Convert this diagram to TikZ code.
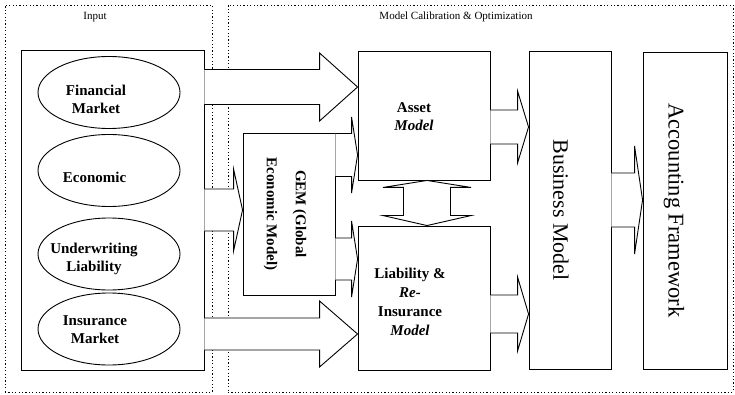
\documentclass[tikz,border=0pt]{standalone}
\usepackage{fontspec}
\setmainfont{Liberation Serif}
\usetikzlibrary{shapes.geometric,calc}

\tikzset{
    zone/.style={draw, line width=.8pt, dash pattern=on 1.2pt off 2.2pt, inner sep=0pt},
    box/.style={draw, line width=.9pt, fill=white, inner sep=0pt},
    source/.style={draw, ellipse, line width=.9pt, minimum width=142pt, minimum height=72pt, inner sep=0pt},
    boldtxt/.style={font=\fontsize{15}{18}\selectfont\bfseries, align=center},
    bigtxt/.style={font=\fontsize{22}{26}\selectfont, rotate=-90},
    small/.style={font=\fontsize{11}{13}\selectfont},
    blockarrow/.style={draw, line width=.9pt, fill=white, line join=miter},
}

% block arrow: from node, to node, axis y, half shaft, half head, head length
\newcommand{\blockarrow}[6]{%
    \draw[blockarrow] let \p1=(#1.east |- 0,#3), \p2=(#2.west |- 0,#3) in
        (\x1,\y1+#4pt) -- (\x2-#6pt,\y1+#4pt) -- (\x2-#6pt,\y1+#5pt) -- (\x2,\y1)
        -- (\x2-#6pt,\y1-#5pt) -- (\x2-#6pt,\y1-#4pt) -- (\x1,\y1-#4pt);
}

\begin{document}
\begin{tikzpicture}[x=1pt, y=-1pt]
    \useasboundingbox (0,0) rectangle (735,395);

    % the two dotted areas
    \node[zone, minimum width=207pt, minimum height=387pt] (inputzone) at (108.5,198.5) {};
    \node[zone, minimum width=505pt, minimum height=387pt] (modelzone) at (480.5,198.5) {};
    \node[small] (inputlbl) at (95,17) {Input};
    \node[small] (modellbl) at (456,17) {Model Calibration \& Optimization};

    % inputs
    \node[box, minimum width=183pt, minimum height=320pt] (input) at (112.5,210) {};
    \node[source] (fin) at (109,92.5) {};
    \node[source] (eco) at (109,170.5) {};
    \node[source] (und) at (109,254) {};
    \node[source] (ins) at (109,329) {};
    \node[boldtxt] at ([shift={(-13pt,-7pt)}]fin.center) {Financial\\Market};
    \node[boldtxt] at ([shift={(-14.5pt,-7pt)}]eco.center) {Economic};
    \node[boldtxt] at ([shift={(-15pt,-5pt)}]und.center) {Underwriting\\Liability};
    \node[boldtxt] at ([shift={(-14pt,-1pt)}]ins.center) {Insurance\\Market};

    % models
    \node[box, minimum width=92pt, minimum height=162pt] (gem) at (289,214) {};
    \node[box, minimum width=132pt, minimum height=129pt] (asset) at (424,115.5) {};
    \node[box, minimum width=132pt, minimum height=144pt] (liab) at (424,298) {};
    \node[box, minimum width=82pt, minimum height=318pt] (business) at (570,210) {};
    \node[box, minimum width=84pt, minimum height=317pt] (accounting) at (685,210.5) {};

    \node[font=\fontsize{15}{29}\selectfont\bfseries, align=center, rotate=-90]
        at ([xshift=-4pt]gem.center) {GEM (Global\\Economic Model)};
    \node[boldtxt] at ([shift={(-10pt,-1.5pt)}]asset.center) {Asset\\\textit{Model}};
    \node[boldtxt, font=\fontsize{15}{19}\selectfont\bfseries]
        at ([shift={(-14pt,-3.5pt)}]liab.center) {Liability \&\\\textit{Re-}\\Insurance\\\textit{Model}};
    \node[bigtxt] at ([xshift=-9pt]business.center) {Business Model};
    \node[bigtxt, font=\fontsize{22.5}{26}\selectfont] at ([xshift=-11pt]accounting.center) {Accounting Framework};

    % arrows
    \blockarrow{input}{asset}{87}{17.5}{34}{38}
    \blockarrow{input}{gem}{210}{21}{41}{9}
    \blockarrow{input}{liab}{334}{16}{33}{38}
    \blockarrow{gem}{asset}{155}{21.5}{38}{6}
    \blockarrow{gem}{liab}{259}{21}{38}{6}
    \blockarrow{asset}{business}{127}{17}{36}{11}
    \blockarrow{liab}{business}{314}{19}{37}{11}
    \blockarrow{business}{accounting}{200}{27}{54}{8}

    \draw[blockarrow] let \p1=(427,0 |- asset.south), \p2=(427,0 |- liab.north) in
        (\x1,\y1) -- (\x1+44pt,\y1-7pt) -- (\x1+23.5pt,\y1-7pt) -- (\x1+23.5pt,\y2+10pt)
        -- (\x1+44pt,\y2+10pt) -- (\x2,\y2) -- (\x1-44pt,\y2+10pt) -- (\x1-23.5pt,\y2+10pt)
        -- (\x1-23.5pt,\y1-7pt) -- (\x1-44pt,\y1-7pt) -- cycle;
\end{tikzpicture}
\end{document}
